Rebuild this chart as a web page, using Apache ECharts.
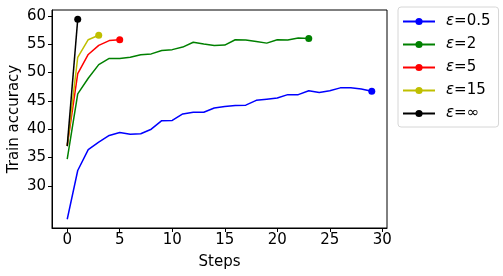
<!DOCTYPE html>
<html><head><meta charset="utf-8">
<script src="https://cdn.jsdelivr.net/npm/echarts@6/dist/echarts.min.js"></script>
<style>html,body{margin:0;padding:0;background:#fff}#c{width:503px;height:276px}</style>
</head><body><div id="c"></div>
<script>
const seriesNames = ['ε=0.5', 'ε=2', 'ε=5', 'ε=15', 'ε=∞'];
const eps05 = [24.1, 32.7, 36.4, 37.7, 38.9, 39.4, 39.1, 39.2, 40.0, 41.5, 41.55, 42.7, 43.0, 43.0, 43.75, 44.0, 44.2, 44.25, 45.1, 45.3, 45.5, 46.1, 46.1, 46.8, 46.5, 46.8, 47.3, 47.3, 47.1, 46.7];
const eps2 = [34.7, 46.25, 49.0, 51.4, 52.5, 52.5, 52.7, 53.15, 53.3, 53.9, 54.05, 54.5, 55.35, 55.05, 54.8, 54.85, 55.8, 55.75, 55.5, 55.2, 55.8, 55.75, 56.1, 56.0];
const eps5 = [37.1, 49.8, 53.2, 54.8, 55.65, 55.8];
const eps15 = [37.0, 52.7, 55.8, 56.6];
const epsInf = [37.0, 59.4];
const xTicks = [0, 5, 10, 15, 20, 25, 30];
const yTicks = [30, 35, 40, 45, 50, 55, 60];
const colors = ['#0000ff', '#008000', '#ff0000', '#bfbf00', '#000000'];
const allData = [eps05, eps2, eps5, eps15, epsInf];

const chart = echarts.init(document.getElementById('c'), null, {renderer: 'canvas'});
const font = 'DejaVu Sans';
chart.setOption({
  animation: false,
  textStyle: {fontFamily: font},
  grid: {left: 52, right: 116, top: 10, bottom: 48, show: true, borderColor: '#000', borderWidth: 1, containLabel: false, outerBoundsMode: 'none'},
  xAxis: {
    type: 'value', min: -1.45, max: 30.45,
    name: 'Steps', nameLocation: 'middle', nameGap: 27, nameMoveOverlap: false,
    nameTextStyle: {fontSize: 15, color: '#000', fontFamily: font},
    axisLine: {show: true, onZero: false, lineStyle: {color: '#000', width: 1}},
    axisTick: {show: true, length: 4, lineStyle: {color: '#000'}, customValues: xTicks},
    axisLabel: {fontSize: 15, color: '#000', margin: 5, fontFamily: font, customValues: xTicks},
    splitLine: {show: false}
  },
  yAxis: {
    type: 'value', min: 22.55, max: 61.05,
    name: 'Train accuracy', nameLocation: 'middle', nameGap: 30, nameRotate: 90, nameMoveOverlap: false,
    nameTextStyle: {fontSize: 15, color: '#000', fontFamily: font},
    axisLine: {show: true, onZero: false, lineStyle: {color: '#000', width: 1}},
    axisTick: {show: true, length: 4, lineStyle: {color: '#000'}, customValues: yTicks},
    axisLabel: {fontSize: 15, color: '#000', margin: 6, fontFamily: font, customValues: yTicks},
    splitLine: {show: false}
  },
  legend: {
    orient: 'vertical', left: 398, top: 7,
    backgroundColor: '#fff', borderColor: '#d6d6d6', borderWidth: 1, borderRadius: 3,
    padding: [6, 8, 5, 4], itemGap: 6, itemWidth: 32, itemHeight: 9,
    formatter: function (name) {
      return '{e|ε}{n|' + name.slice(1) + '}';
    },
    textStyle: {
      fontSize: 15, color: '#000', fontFamily: font, lineHeight: 17,
      rich: {
        e: {fontStyle: 'italic', fontSize: 15, fontFamily: font, lineHeight: 17, padding: [0, 0, 0, 6]},
        n: {fontSize: 15, fontFamily: font, lineHeight: 17}
      }
    },
    data: seriesNames
  },
  series: allData.map((arr, i) => ({
    name: seriesNames[i],
    type: 'line',
    data: arr.map((v, k) => [k, v]),
    color: colors[i],
    lineStyle: {width: 1.5, color: colors[i]},
    itemStyle: {color: colors[i]},
    symbol: 'circle',
    showSymbol: true,
    symbolSize: function (val, params) { return params.dataIndex === arr.length - 1 ? 7 : 0; },
    z: 2 + i
  }))
});
</script></body></html>
